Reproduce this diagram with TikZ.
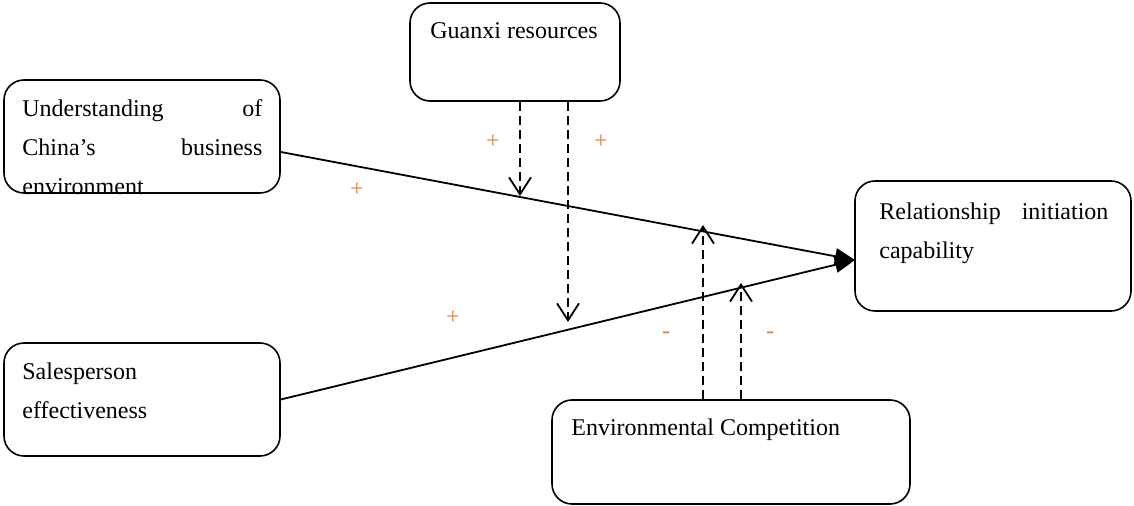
\documentclass[tikz,border=0pt]{standalone}
\usepackage{fontspec}
\setmainfont{Liberation Serif}
\usepackage{xcolor}
\usetikzlibrary{arrows.meta, positioning, calc}

\definecolor{signorange}{RGB}{237,125,49}

\begin{document}
\begin{tikzpicture}[x=0.5pt, y=-0.5pt,
    box/.style={rectangle, draw, rounded corners=10pt, line width=0.8pt},
    txt/.style={anchor=north west, inner sep=0pt, align=left, font=\fontsize{12}{19.5}\selectfont},
    arrow/.style={-{Triangle[length=10pt,width=8pt]}, line width=0.9pt},
    modarrow/.style={-{Straight Barb[length=8.5pt,width=11pt]}, line width=0.9pt, dash pattern=on 4.5pt off 2.5pt},
    sign/.style={text=signorange, font=\fontsize{12}{12}\selectfont, inner sep=0pt}
]
    \useasboundingbox (0,0) rectangle (1134,506);

    % boxes
    \node[box, minimum width=105pt, minimum height=49pt] (guanxi) at (515,52) {};
    \node[box, minimum width=138pt, minimum height=56.5pt] (und) at (142,136.5) {};
    \node[box, minimum width=138pt, minimum height=65pt] (rel) at (993,246) {};
    \node[box, minimum width=138pt, minimum height=56.5pt] (sales) at (142,399.5) {};
    \node[box, minimum width=179pt, minimum height=52pt] (env) at (731,452) {};

    % texts
    \node[txt] (guanxi-txt) at (430,22) {Guanxi resources};
    \node[txt, text width=120pt] (und-txt) at (22,99) {Understanding \hfill of\\ China's \hfill business\\ environment};
    \node[txt, text width=114.5pt] (rel-txt) at (879,202) {Relationship \hfill initiation\\ capability};
    \node[txt] (sales-txt) at (22,362) {Salesperson\\ effectiveness};
    \node[txt] (env-txt) at (571,418) {Environmental Competition};

    % arrow ends
    \coordinate (tip) at (855,260);
    \coordinate (gA) at (520,196);
    \coordinate (gB) at (568,322);
    \coordinate (cA) at (703,225);
    \coordinate (cB) at (741,283);

    \draw[arrow] ($(und.east)+(0,15.5)$) -- (tip);
    \draw[arrow] (sales.east) -- (tip);

    \draw[modarrow] ($(guanxi.south)+(5,0)$) -- (gA);
    \draw[modarrow] ($(guanxi.south)+(53,0)$) -- (gB);
    \draw[modarrow] ($(env.north)+(-28,0)$) -- (cA);
    \draw[modarrow] ($(env.north)+(10,0)$) -- (cB);

    % signs
    \node[sign] (p1) at (493,142) {+};
    \node[sign] (p2) at (601,142) {+};
    \node[sign] (p3) at (357,190) {+};
    \node[sign] (p4) at (453,318) {+};
    \node[sign] (m1) at (666,335) {-};
    \node[sign] (m2) at (770,335) {-};
\end{tikzpicture}
\end{document}
